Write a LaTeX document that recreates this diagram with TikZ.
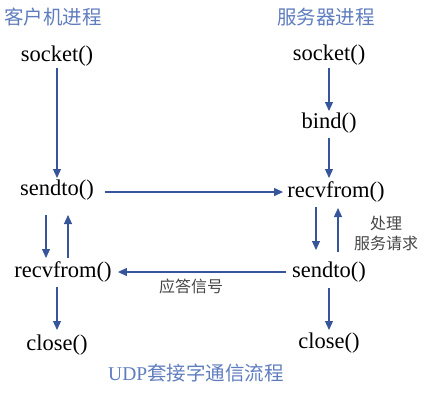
\documentclass[tikz,border=0pt]{standalone}
\usepackage{fontspec}
\setmainfont{Liberation Serif}
\newfontfamily\cjk{Noto Sans CJK SC}
\usetikzlibrary{arrows.meta}
\definecolor{ttl}{RGB}{95,125,190}
\definecolor{arc}{RGB}{55,85,155}
\definecolor{lbl}{RGB}{70,70,70}
\begin{document}
\begin{tikzpicture}[x=1pt,y=-1pt,
  fn/.style={font=\fontsize{22.5}{26}\selectfont, inner sep=0pt},
  ttlbl/.style={font=\cjk\fontsize{19.5}{22}\selectfont, text=ttl, inner sep=0pt},
  note/.style={font=\cjk\fontsize{16}{20}\selectfont, text=lbl, inner sep=0pt, align=center},
  arr/.style={draw=arc, line width=1.1pt, -{Triangle[length=9pt,width=8pt]}, fill=arc}]
\useasboundingbox (0,0) rectangle (433,400);
% titles
\node[ttlbl] (tc) at (53,17) {客户机进程};
\node[ttlbl] (ts) at (326,17) {服务器进程};
\node[font=\fontsize{19.5}{22}\selectfont, text=ttl, inner sep=0pt] (tb) at (196,373) {UDP{\cjk 套接字通信流程}};
% client
\node[fn] (cso) at (57,56) {socket()};
\node[fn] (csd) at (57,190) {sendto()};
\node[fn] (crf) at (63,272) {recvfrom()};
\node[fn] (ccl) at (57,345) {close()};
% server
\node[fn] (sso) at (329,55) {socket()};
\node[fn] (sbi) at (329,123) {bind()};
\node[fn] (srf) at (336,192) {recvfrom()};
\node[fn] (ssd) at (329,272) {sendto()};
\node[fn] (scl) at (329,343) {close()};
% labels
\node[note] (lans) at (191,286) {应答信号};
\node[note] (lproc) at (386,233) {处理\\服务请求};
% arrows
\draw[arr] ([yshift=-12pt]cso.center) -- ([yshift=12pt]csd.center);
\draw[arr] ([yshift=-13pt]sso.center) -- ([yshift=12pt]sbi.center);
\draw[arr] ([yshift=-15pt]sbi.center) -- ([xshift=-7pt,yshift=14pt]srf.center);
\draw[arr] ([xshift=48pt,yshift=-2pt]csd.center) -- ([xshift=-4pt]srf.west);
\draw[arr] ([xshift=-11pt,yshift=-25pt]csd.center) -- ([xshift=-17pt,yshift=14pt]crf.center);
\draw[arr] ([xshift=5pt,yshift=14pt]crf.center) -- ([xshift=11pt,yshift=-25pt]csd.center);
\draw[arr] ([xshift=-20pt,yshift=-15pt]srf.center) -- ([xshift=-13pt,yshift=22pt]ssd.center);
\draw[arr] ([xshift=9pt,yshift=20pt]ssd.center) -- ([xshift=2pt,yshift=-16pt]srf.center);
\draw[arr] ([xshift=-6pt]ssd.west) -- ([xshift=6pt]crf.east);
\draw[arr] ([xshift=-6pt,yshift=-15pt]crf.center) -- ([yshift=15pt]ccl.center);
\draw[arr] ([yshift=-16pt]ssd.center) -- ([yshift=13pt]scl.center);
\end{tikzpicture}
\end{document}
